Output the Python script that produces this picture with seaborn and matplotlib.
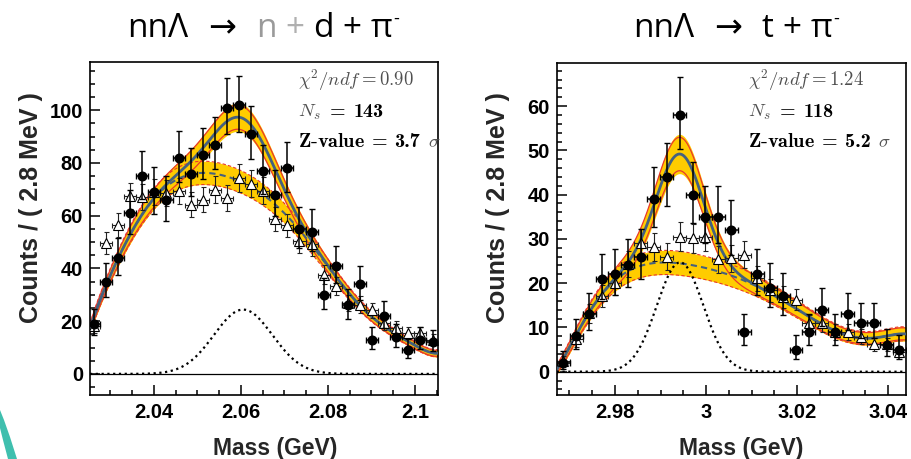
import numpy as np
import matplotlib
matplotlib.use("Agg")
import matplotlib.pyplot as plt
import seaborn as sns
from matplotlib.ticker import MultipleLocator
from matplotlib.patches import Polygon

# ---------------- left panel: nnΛ → n + d + π- ----------------
L_first_center = 2.0262
L_bin_width = 0.00278
L_signal_counts = [19, 35, 44, 61, 75, 69, 66, 82, 76, 83, 87, 101, 102, 91, 77,
                   68, 78, 55, 54, 30, 41, 26, 34, 13, 22, 14, 9, 13, 12]
L_sideband_counts = [18.0, 49.7, 56.4, 67.4, 67.1, 68.9, 68.6, 69.3, 64.2, 66.1,
                     69.9, 66.8, 74.3, 72.2, 69.5, 58.8, 56.3, 50.3, 49.1, 37.7,
                     33.2, 26.9, 26.3, 24.1, 19.3, 17.4, 15.5, 15.5, 13.0]
L_bkg_x = [2.0253, 2.0293, 2.0320, 2.0349, 2.0376, 2.0405, 2.0431, 2.0460, 2.0487,
           2.0513, 2.0542, 2.0571, 2.0598, 2.0625, 2.0651, 2.0681, 2.0707, 2.0736,
           2.0764, 2.0791, 2.0819, 2.0847, 2.0875, 2.0901, 2.0929, 2.0956, 2.0986,
           2.1013, 2.1041, 2.1054]
L_bkg_y = [17.4, 35.1, 44.6, 53.5, 61.0, 67.8, 71.6, 74.5, 75.8, 76.0, 75.5, 74.5,
           73.0, 71.0, 68.5, 64.0, 59.5, 54.0, 48.5, 42.5, 37.0, 30.7, 25.7, 21.9,
           18.0, 15.0, 11.8, 9.9, 8.2, 7.7]
L_signal_peak = 24.4
L_signal_mean = 2.0605
L_signal_sigma = 0.0067
L_xlim = (2.0253, 2.1053)
L_ylim = (-8.0, 118.3)
L_xticks = [2.04, 2.06, 2.08, 2.10]
L_xticklabels = ["2.04", "2.06", "2.08", "2.1"]
L_yticks = [0, 20, 40, 60, 80, 100]
L_chi2 = "0.90"
L_ns = "143"
L_z = "3.7"
L_title = [("nnΛ", "black"), ("→", "black"), ("n", "#9a9a9a"), ("+", "#b0b0b0"),
           ("d", "black"), ("+", "black"), ("π", "black")]

# ---------------- right panel: nnΛ → t + π- ----------------
R_first_center = 2.96862
R_bin_width = 0.00284
R_signal_counts = [2, 8, 13, 21, 22, 24, 26, 39, 44, 58, 40, 35, 35, 32, 9, 22, 19,
                   17, 5, 9, 14, 9, 13, 11, 11, 6, 5]
R_sideband_counts = [2.5, 7.3, 13.2, 17.1, 20.1, 24.3, 29.1, 28.2, 26.0, 30.5, 30.1,
                     30.5, 25.4, 25.6, 26.4, 21.1, 18.4, 16.8, 16.3, 10.9, 10.9, 9.0,
                     9.0, 7.9, 6.2, 6.2, 4.5]
R_bkg_x = [2.9672, 2.9714, 2.9741, 2.9771, 2.9798, 2.9827, 2.9856, 2.9884, 2.9912,
           2.9941, 2.9968, 2.9998, 3.0025, 3.0056, 3.0084, 3.0111, 3.0140, 3.0168,
           3.0197, 3.0224, 3.0252, 3.0283, 3.0311, 3.0340, 3.0369, 3.0396, 3.0426,
           3.0439]
R_bkg_y = [0.5, 7.9, 13.2, 17.6, 20.6, 22.5, 23.6, 24.3, 24.7, 24.8, 24.5, 23.6,
           22.5, 21.3, 20.3, 19.2, 18.0, 16.6, 14.6, 12.4, 10.5, 9.0, 8.2, 7.9, 7.8,
           7.9, 8.3, 8.7]
R_signal_peak = 24.7
R_signal_mean = 2.9943
R_signal_sigma = 0.0051
R_xlim = (2.9672, 3.0439)
R_ylim = (-5.26, 69.8)
R_xticks = [2.98, 3.00, 3.02, 3.04]
R_xticklabels = ["2.98", "3", "3.02", "3.04"]
R_yticks = [0, 10, 20, 30, 40, 50, 60]
R_chi2 = "1.24"
R_ns = "118"
R_z = "5.2"
R_title = [("nnΛ", "black"), ("→", "black"), ("t", "black"), ("+", "black"),
           ("π", "black")]

W, H = 911, 459
sns.set_theme(style="ticks")
plt.rcParams["font.family"] = ["Liberation Sans", "DejaVu Sans"]
plt.rcParams["mathtext.fontset"] = "cm"

fig = plt.figure(figsize=(W / 100, H / 100), dpi=100)
fig.patch.set_facecolor("white")
renderer = fig.canvas.get_renderer()


def px_axes(l, t, r, b):
    return fig.add_axes([l / W, 1 - b / H, (r - l) / W, (b - t) / H])


YELLOW = "#ffcc00"
RED = "#e8382c"
BLUE = "#45617f"


def smooth_curve(xs, ys, grid):
    xs = np.asarray(xs)
    c = xs.mean()
    s = (xs.max() - xs.min()) / 2
    p = np.polyfit((xs - c) / s, ys, 9)
    return np.polyval(p, (grid - c) / s)


def panel(ax, first, width, sig, side, bx, by, amp, mu, sd, xlim, ylim,
          xticks, xtl, yticks, ymin, frac, absw):
    grid = np.linspace(xlim[0], xlim[1], 500)
    bkg = smooth_curve(bx, by, grid)
    signal = amp * np.exp(-0.5 * ((grid - mu) / sd) ** 2)
    total = bkg + signal
    tw = frac * total + absw
    bw = frac * bkg + absw
    ax.fill_between(grid, bkg - bw, bkg + bw, color=YELLOW, lw=0, zorder=1)
    ax.fill_between(grid, total - tw, total + tw, color=YELLOW, lw=0, zorder=1)
    for sgn in (-1, 1):
        ax.plot(grid, bkg + sgn * bw, color=RED, lw=0.8, ls=(0, (3, 2)), zorder=2)
        ax.plot(grid, total + sgn * 0.85 * tw, color=RED, lw=0.9, zorder=2)
    sns.lineplot(x=grid, y=bkg, ax=ax, color=BLUE, lw=1.5, ls=(0, (3, 2)), zorder=3)
    sns.lineplot(x=grid, y=total, ax=ax, color=BLUE, lw=2.0, zorder=3)
    sns.lineplot(x=grid, y=signal, ax=ax, color="black", lw=1.6, ls=(0, (1, 1.6)), zorder=3)
    ax.axhline(0, color="black", lw=0.9, zorder=2)

    n = len(sig)
    centers = first + width * np.arange(n)
    sig = np.asarray(sig, float)
    side = np.asarray(side, float)
    up = 1 + np.sqrt(sig + 0.75)
    lo = np.sqrt(np.clip(sig - 0.25, 0, None))
    se = 0.6 * np.sqrt(side)
    ax.errorbar(centers, side, yerr=se, xerr=width / 2, fmt="^", ms=7, mfc="white",
                mec="black", mew=0.8, ecolor="#222222", elinewidth=0.8, capsize=1.8,
                capthick=0.8, zorder=4)
    ax.errorbar(centers, sig, yerr=[lo, up], xerr=width / 2, fmt="o", ms=6.2,
                color="black", ecolor="black", elinewidth=1.1, capsize=2.0,
                capthick=1.0, zorder=5)

    ax.set_xlim(*xlim)
    ax.set_ylim(*ylim)
    ax.set_xticks(xticks)
    ax.set_xticklabels(xtl)
    ax.xaxis.set_minor_locator(MultipleLocator(0.005))
    ax.set_yticks(yticks)
    ax.yaxis.set_minor_locator(MultipleLocator(ymin))
    ax.tick_params(which="both", direction="in", top=False, right=False, width=1.1,
                   color="black")
    ax.tick_params(which="major", length=7.5)
    ax.tick_params(which="minor", length=3.6)
    ax.tick_params(axis="x", pad=5.5)
    ax.tick_params(axis="y", pad=5)
    for lab in ax.get_xticklabels() + ax.get_yticklabels():
        lab.set_fontweight("bold")
        lab.set_fontsize(14.5)
        lab.set_color("black")
    for sp in ax.spines.values():
        sp.set_linewidth(1.2)
        sp.set_color("black")
        sp.set_visible(True)
    ax.set_facecolor("white")
    ax.set_xlabel("")
    ax.set_ylabel("")


axL = px_axes(90, 62, 438, 395)
panel(axL, L_first_center, L_bin_width, L_signal_counts, L_sideband_counts,
      L_bkg_x, L_bkg_y, L_signal_peak, L_signal_mean, L_signal_sigma, L_xlim, L_ylim,
      L_xticks, L_xticklabels, L_yticks, 5, 0.045, 1.0)
axR = px_axes(556.7, 62.7, 906, 395)
panel(axR, R_first_center, R_bin_width, R_signal_counts, R_sideband_counts,
      R_bkg_x, R_bkg_y, R_signal_peak, R_signal_mean, R_signal_sigma, R_xlim, R_ylim,
      R_xticks, R_xticklabels, R_yticks, 2, 0.07, 1.0)

# axis titles
for xc in (275, 741):
    fig.text(xc / W, 1 - 448 / H, "Mass (GeV)", ha="center", va="center",
             fontsize=16.5, fontweight="bold")
for xc in (31, 498):
    fig.text(xc / W, 1 - 208 / H, "Counts / ( 2.8 MeV )", ha="center", va="center",
             rotation=90, fontsize=18, fontweight="bold")


def place_row(pieces, x0, base):
    """pieces: list of (text, color, family-or-None, fontsize, gap_after_px)"""
    x = x0
    for s, c, fam, fs, gap in pieces:
        kw = dict(color=c, fontsize=fs, va="baseline", ha="left")
        if fam:
            kw["family"] = fam
        t = fig.text(x / W, 1 - base / H, s, **kw)
        x += t.get_window_extent(renderer).width + gap
    return x


GRAY = "#505050"
BF = "cmb10"
FS = 13.5
FB = 14.5
for x0, chi, ns, z in ((298, L_chi2, L_ns, L_z), (748, R_chi2, R_ns, R_z)):
    place_row([(r"$\chi^{2}/ndf = %s$" % chi, GRAY, None, FS, 0)], x0, 86)
    place_row([(r"$N_{s}$", GRAY, None, FS, 9), ("=", "black", BF, FB, 8),
               (ns, "black", BF, FB, 0)], x0, 117)
    place_row([(r"$\mathbf{Z}\text{-}\mathbf{value}$", "black", None, FB, 7),
               ("=", "black", BF, FB, 7), (z, "black", BF, FB, 8),
               (r"$\sigma$", GRAY, None, FS, 0)], x0, 147)

# titles
TFAM = ["Open Sans", "DejaVu Sans"]


def draw_title(pieces, gaps, xc, base):
    texts = [fig.text(0, 0, s, color=c, fontsize=24, family=TFAM, va="baseline")
             for s, c in pieces]
    sup = fig.text(0, 0, "-", color="black", fontsize=13, family=TFAM, va="baseline")
    widths = [t.get_window_extent(renderer).width for t in texts]
    total = sum(widths) + sum(gaps) + 5
    x = xc - total / 2
    for t, w, g in zip(texts, widths + [0], gaps + [0]):
        t.set_position((x / W, 1 - base / H))
        x += w + g
    sup.set_position(((x + 0.5) / W, 1 - (base - 13) / H))


draw_title(L_title, [20, 20, 9, 9, 9, 9], 262, 37)
draw_title(R_title, [20, 20, 9, 9], 735, 37)

# decorative teal arc at bottom-left corner (slide artefact)
arc = Polygon([(0 / W, 1 - 410 / H), (4 / W, 1 - 420 / H), (10 / W, 1 - 437 / H),
               (17 / W, 1 - 459 / H), (8 / W, 1 - 459 / H), (3 / W, 1 - 440 / H),
               (0 / W, 1 - 428 / H)], closed=True, transform=fig.transFigure,
              facecolor="#3fbfae", edgecolor="none")
fig.patches.append(arc)

fig.savefig("out.png", dpi=100, facecolor="white")
